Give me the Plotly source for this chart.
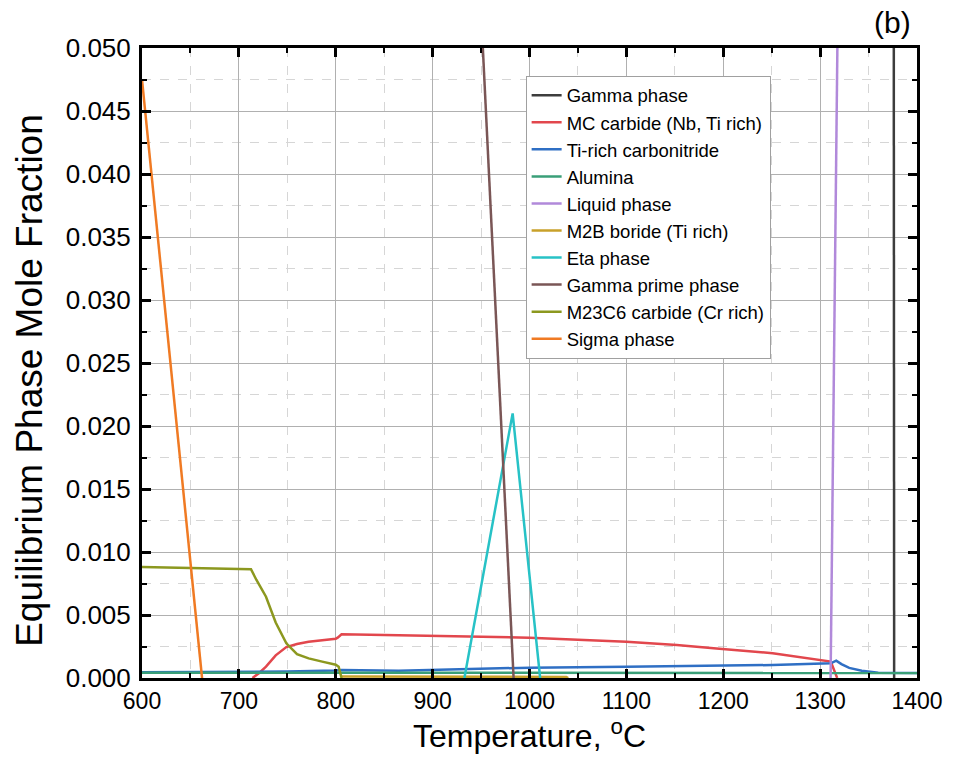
import plotly.graph_objects as go

# ---- data ----
gamma_T = [1370, 1376.4]
gamma_v = [0.9, 0.0]

mc_T = [714, 721, 728, 738, 749, 760, 772, 786, 800, 802, 806, 865, 1000, 1100, 1152, 1193, 1251, 1311, 1317.6]
mc_v = [0.0, 0.0004, 0.0009, 0.0018, 0.00245, 0.0027, 0.00288, 0.00302, 0.00312, 0.0032, 0.00347, 0.00340, 0.0032, 0.00288, 0.00262, 0.00235, 0.00196, 0.0013, 0.0]

ti_T = [600, 700, 750, 800, 806, 865, 1000, 1100, 1193, 1251, 1311, 1316.6, 1322, 1330, 1343, 1360, 1400]
ti_v = [0.00045, 0.00048, 0.00052, 0.0006, 0.00064, 0.00058, 0.00082, 0.0009, 0.00098, 0.00103, 0.00117, 0.00138, 0.0011, 0.0008, 0.00058, 0.00042, 0.0004]

al_T = [600, 800, 1000, 1200, 1400]
al_v = [0.00042, 0.00042, 0.0004, 0.0004, 0.0004]

liq_T = [1310.8, 1318, 1322]
liq_v = [0.0, 0.05, 0.08]

m2b_T = [806, 900, 1000, 1038, 1040]
m2b_v = [0.00012, 0.0001, 0.0001, 0.00008, 0.0]

eta_T = [932.8, 982.6, 1011]
eta_v = [0.0, 0.021, 0.0]

gp_T = [940, 951.8, 983.6]
gp_v = [0.0686, 0.05, 0.0]

m23_T = [600, 660, 712.5, 718, 728, 738, 749, 760, 772, 786, 800, 803, 806]
m23_v = [0.0088, 0.00871, 0.00863, 0.0078, 0.00645, 0.0044, 0.00275, 0.0019, 0.00156, 0.0013, 0.00105, 0.0009, 0.0]

sig_T = [600, 662]
sig_v = [0.0475, 0.0]

series = [
    ("Gamma phase", gamma_T, gamma_v, "#3d3d3d"),
    ("MC carbide (Nb, Ti rich)", mc_T, mc_v, "#e2474d"),
    ("Ti-rich carbonitride", ti_T, ti_v, "#2f6fc4"),
    ("Alumina", al_T, al_v, "#3a9f78"),
    ("Liquid phase", liq_T, liq_v, "#b189da"),
    ("M2B boride (Ti rich)", m2b_T, m2b_v, "#c8a12a"),
    ("Eta phase", eta_T, eta_v, "#27c2c6"),
    ("Gamma prime phase", gp_T, gp_v, "#7a5656"),
    ("M23C6 carbide (Cr rich)", m23_T, m23_v, "#8c981f"),
    ("Sigma phase", sig_T, sig_v, "#f07a23"),
]

x_ticks = [600, 700, 800, 900, 1000, 1100, 1200, 1300, 1400]

fig = go.Figure()
for name, t, v, c in series:
    fig.add_trace(go.Scatter(x=t, y=v, mode="lines", name=name,
                             line=dict(color=c, width=2.5)))

font_family = "Liberation Sans, Arial, sans-serif"

axis_common = dict(
    showline=True, linecolor="black", linewidth=3, mirror="allticks",
    ticks="inside", ticklen=9, tickwidth=2.5, tickcolor="black",
    showgrid=True, gridcolor="#b0b0b0", gridwidth=1,
    zeroline=False, layer="above traces",
)

fig.update_xaxes(
    range=[600, 1400], tickvals=x_ticks,
    tickfont=dict(size=23, color="black", family=font_family),
    minor=dict(dtick=50, ticks="inside", ticklen=5, tickwidth=2, tickcolor="black",
               showgrid=True, gridcolor="#d6d6d6", griddash="dash", gridwidth=1),
    **axis_common,
)
fig.update_yaxes(
    range=[0, 0.05], dtick=0.005, tickformat=".3f",
    tickfont=dict(size=26, color="black", family=font_family),
    ticklabelstandoff=3,
    minor=dict(dtick=0.0025, ticks="inside", ticklen=5, tickwidth=2, tickcolor="black",
               showgrid=True, gridcolor="#d6d6d6", griddash="dash", gridwidth=1),
    **axis_common,
)

# axis titles as annotations for precise placement
fig.add_annotation(text="Temperature, <sup>o</sup>C", xref="paper", yref="paper",
                   x=0.5, y=-0.089, xanchor="center", yanchor="middle", showarrow=False,
                   font=dict(size=32, color="black", family=font_family))
fig.add_annotation(text="Equilibrium Phase Mole Fraction", xref="paper", yref="paper",
                   x=-0.146, y=0.473, xanchor="center", yanchor="middle", textangle=-90,
                   showarrow=False, font=dict(size=37, color="black", family=font_family))

fig.add_annotation(text="(b)", xref="paper", yref="paper", x=0.968, y=1.041,
                   xanchor="center", yanchor="middle", showarrow=False,
                   font=dict(size=30, color="black", family=font_family))

fig.update_layout(
    width=955, height=757,
    margin=dict(l=142, r=33, t=48, b=79),
    paper_bgcolor="white", plot_bgcolor="white",
    font=dict(family=font_family, color="black"),
    legend=dict(x=0.495, y=0.956, xanchor="left", yanchor="top",
                bgcolor="white", bordercolor="#a0a0a0", borderwidth=1,
                font=dict(size=18.5, color="black", family=font_family),
                tracegroupgap=0),
    showlegend=True,
)

fig.write_html("out.html")
